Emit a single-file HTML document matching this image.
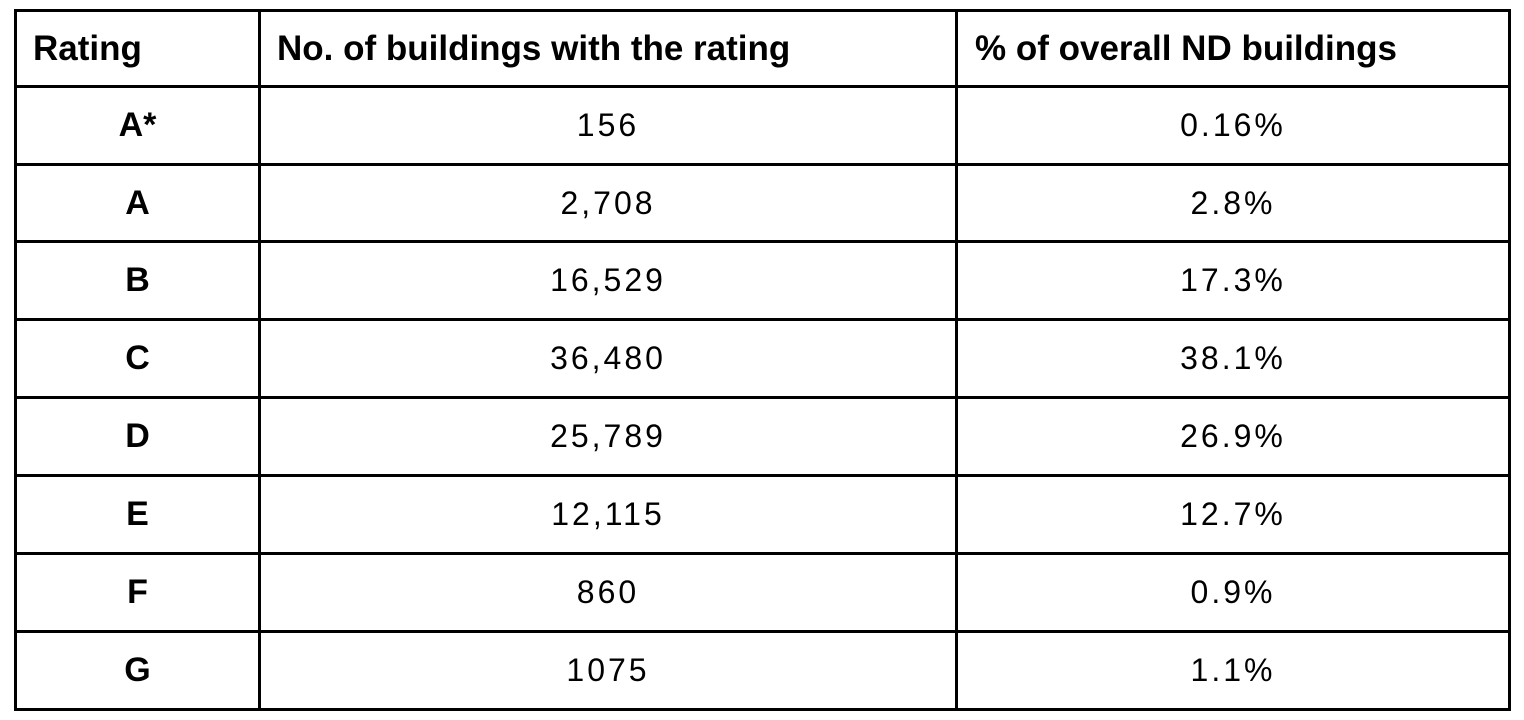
<!DOCTYPE html>
<html><head><meta charset="utf-8"><style>
body{margin:0;width:1524px;height:720px;background:#fff;position:relative;overflow:hidden;font-family:"Liberation Sans",sans-serif;color:#000}
.h{position:absolute;left:14px;width:1497px;height:3px;background:#000}
.v{position:absolute;top:9px;height:702px;width:3px;background:#000}
.c{position:absolute;height:77px;line-height:77px;font-size:32px;letter-spacing:3px;text-align:center}
.hd{position:absolute;top:10px;height:77px;line-height:77px;font-size:35px;font-weight:bold}
</style></head><body>
<div id="grid"></div>
<div class="hd" style="left:33px">Rating</div>
<div class="hd" style="left:277px">No. of buildings with the rating</div>
<div class="hd" style="left:975px">% of overall ND buildings</div>
<script>
const ratings=["A*","A","B","C","D","E","F","G"];
const counts=["156","2,708","16,529","36,480","25,789","12,115","860","1075"];
const percents=["0.16%","2.8%","17.3%","38.1%","26.9%","12.7%","0.9%","1.1%"];
const lineY=[9,85,163,240,318,396,474,552,630,708];
const colX=[14,258,955,1508];
const g=document.body;
lineY.forEach(y=>{const d=document.createElement('div');d.className='h';d.style.top=y+'px';


g.appendChild(d);});
colX.forEach(x=>{const d=document.createElement('div');d.className='v';d.style.left=x+'px';


g.appendChild(d);});
ratings.forEach((r,i)=>{
 const top=lineY[i+1]+2;
 const cells=[[r,17,241,'rating-cell',true],[counts[i],261,694,'count-cell',false],[percents[i],958,550,'percent-cell',false]];
 cells.forEach(([t,l,w,n,b])=>{const d=document.createElement('div');d.className='c';
  d.style.left=l+'px';d.style.width=w+'px';d.style.top=top+'px';
  if(b){d.style.fontWeight='bold';d.style.fontSize='34px';d.style.letterSpacing='0px';}
  d.textContent=t;
  
  
  g.appendChild(d);});
});
</script>
</body></html>
